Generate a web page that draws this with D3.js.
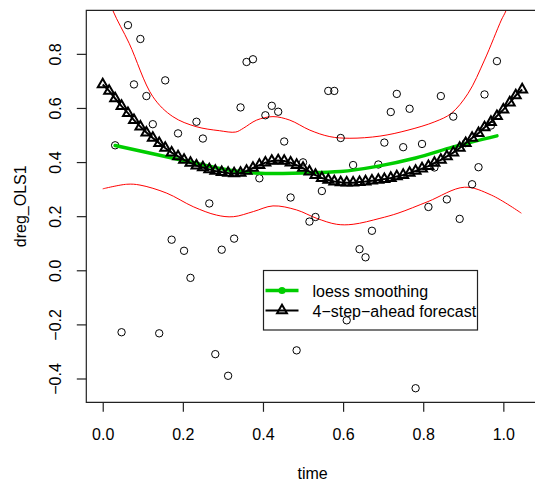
<!DOCTYPE html>
<html>
<head>
<meta charset="utf-8">
<script src="https://cdn.jsdelivr.net/npm/d3@7"></script>
<style>
  html, body { margin: 0; padding: 0; background: #fff; }
  svg { display: block; }
  text { font-family: "Liberation Sans", Arial, sans-serif; fill: #000; }
</style>
</head>
<body>
<svg id="chart" width="535" height="481"></svg>
<script>
// ---------- data ----------
const circleTime = [0.031, 0.047, 0.063, 0.078, 0.094, 0.109, 0.125, 0.141, 0.156, 0.172,
  0.188, 0.203, 0.219, 0.234, 0.25, 0.266, 0.281, 0.297, 0.313, 0.328,
  0.344, 0.359, 0.375, 0.391, 0.406, 0.422, 0.438, 0.453, 0.469, 0.484,
  0.5, 0.516, 0.531, 0.547, 0.563, 0.578, 0.594, 0.609, 0.625, 0.641,
  0.656, 0.672, 0.688, 0.703, 0.719, 0.734, 0.75, 0.766, 0.781, 0.797,
  0.813, 0.828, 0.844, 0.859, 0.875, 0.891, 0.906, 0.922, 0.938, 0.953,
  0.969, 0.984];
const circleValue = [0.462, -0.229, 0.906, 0.687, 0.855, 0.644, 0.540, -0.233, 0.702, 0.113,
  0.506, 0.072, -0.028, 0.549, 0.487, 0.247, -0.310, 0.076, -0.390, 0.117,
  0.602, 0.770, 0.780, 0.340, 0.573, 0.608, 0.586, 0.476, 0.269, -0.296,
  0.399, 0.180, 0.197, 0.293, 0.663, 0.663, 0.489, -0.185, 0.389, 0.078,
  0.048, 0.146, 0.391, 0.472, 0.585, 0.652, 0.455, 0.597, -0.436, 0.467,
  0.234, 0.380, 0.644, 0.262, 0.568, 0.190, 0.470, 0.318, 0.381, 0.650,
  0.535, 0.773];

const forecastTime = [0, 0.016, 0.031, 0.047, 0.063, 0.078, 0.094, 0.109, 0.125, 0.141,
  0.156, 0.172, 0.188, 0.203, 0.219, 0.234, 0.25, 0.266, 0.281, 0.297,
  0.313, 0.328, 0.344, 0.359, 0.375, 0.391, 0.406, 0.422, 0.438, 0.453,
  0.469, 0.484, 0.5, 0.516, 0.531, 0.547, 0.563, 0.578, 0.594, 0.609,
  0.625, 0.641, 0.656, 0.672, 0.688, 0.703, 0.719, 0.734, 0.75, 0.766,
  0.781, 0.797, 0.813, 0.828, 0.844, 0.859, 0.875, 0.891, 0.906, 0.922,
  0.938, 0.953, 0.969, 0.984, 1.0, 1.016, 1.031, 1.047];
const forecastValue = [0.687, 0.663, 0.635, 0.607, 0.581, 0.555, 0.531, 0.509, 0.489, 0.470,
  0.452, 0.435, 0.421, 0.408, 0.397, 0.387, 0.380, 0.373, 0.367, 0.363,
  0.360, 0.358, 0.360, 0.367, 0.378, 0.389, 0.398, 0.404, 0.406, 0.404,
  0.398, 0.389, 0.378, 0.365, 0.352, 0.341, 0.334, 0.328, 0.325, 0.324,
  0.324, 0.326, 0.328, 0.331, 0.334, 0.337, 0.341, 0.347, 0.352, 0.360,
  0.367, 0.376, 0.385, 0.397, 0.408, 0.421, 0.435, 0.452, 0.470, 0.489,
  0.507, 0.528, 0.548, 0.570, 0.594, 0.620, 0.646, 0.668];

const loessTime  = [0.031, 0.125, 0.219, 0.313, 0.406, 0.5, 0.594, 0.688, 0.781, 0.875, 0.984];
const loessValue = [0.461, 0.431, 0.400, 0.371, 0.358, 0.360, 0.365, 0.385, 0.415, 0.456, 0.497];

const upperTime  = [0, 0.025, 0.066, 0.125, 0.175, 0.233, 0.291, 0.332, 0.351, 0.384, 0.425, 0.467,
  0.517, 0.567, 0.617, 0.692, 0.762, 0.829, 0.870, 0.912, 0.953, 0.995, 1.007, 1.047];
const upperValue = [1.07, 0.961, 0.839, 0.642, 0.568, 0.531, 0.516, 0.511, 0.525, 0.555, 0.568, 0.555,
  0.518, 0.494, 0.488, 0.496, 0.518, 0.549, 0.580, 0.654, 0.777, 0.925, 0.961, 1.15];

const lowerTime  = [0, 0.060, 0.093, 0.160, 0.226, 0.284, 0.326, 0.376, 0.425, 0.484, 0.534, 0.584,
  0.625, 0.692, 0.737, 0.812, 0.903, 0.970, 1.045];
const lowerValue = [0.301, 0.318, 0.315, 0.285, 0.235, 0.204, 0.198, 0.217, 0.238, 0.223, 0.192, 0.170,
  0.170, 0.192, 0.211, 0.254, 0.307, 0.278, 0.211];

const xTicks = [0, 0.2, 0.4, 0.6, 0.8, 1.0];
const xTickLabels = ["0.0", "0.2", "0.4", "0.6", "0.8", "1.0"];
const yTicks = [-0.4, -0.2, 0, 0.2, 0.4, 0.6, 0.8];
const yTickLabels = ["\u22120.4", "\u22120.2", "0.0", "0.2", "0.4", "0.6", "0.8"];
const legendLabels = ["loess smoothing", "4\u2212step\u2212ahead forecast"];
const xTitle = "time";
const yTitle = "dreg_OLS1";

// ---------- layout ----------
const svg = d3.select("#chart");
const pLeft = 86.3, pRight = 540.4, pTop = 10.3, pBottom = 402.3;
const x = d3.scaleLinear().domain([-0.041, 1.0925]).range([pLeft, pRight]);
const y = d3.scaleLinear().domain([-0.488, 0.961]).range([pBottom, pTop]);

svg.append("defs").append("clipPath").attr("id", "plotclip")
  .append("rect").attr("x", pLeft).attr("y", pTop).attr("width", pRight - pLeft).attr("height", pBottom - pTop);

const plot = svg.append("g").attr("clip-path", "url(#plotclip)");

// red interval lines
const redLine = d3.line().x(d => x(d[0])).y(d => y(d[1])).curve(d3.curveCatmullRom.alpha(0.5));
plot.append("path").datum(d3.zip(upperTime, upperValue))
  .attr("d", redLine).attr("fill", "none").attr("stroke", "#ff0000").attr("stroke-width", 1);
plot.append("path").datum(d3.zip(lowerTime, lowerValue))
  .attr("d", redLine).attr("fill", "none").attr("stroke", "#ff0000").attr("stroke-width", 1);

// observed circles
plot.append("g").selectAll("circle").data(d3.zip(circleTime, circleValue)).join("circle")
  .attr("cx", d => x(d[0])).attr("cy", d => y(d[1])).attr("r", 3.7)
  .attr("fill", "none").attr("stroke", "#000").attr("stroke-width", 1);

// loess line
const smoothLine = d3.line().x(d => x(d[0])).y(d => y(d[1])).curve(d3.curveMonotoneX);
plot.append("path").datum(d3.zip(loessTime, loessValue))
  .attr("d", smoothLine).attr("fill", "none").attr("stroke", "#00cd00").attr("stroke-width", 3.5)
  .attr("stroke-linecap", "round");

// forecast line + triangles
const fData = d3.zip(forecastTime, forecastValue);
plot.append("path").datum(fData)
  .attr("d", d3.line().x(d => x(d[0])).y(d => y(d[1])))
  .attr("fill", "none").attr("stroke", "#000").attr("stroke-width", 2);
const triR = 5.7;
function triPath(cx, cy, r) {
  const hw = r * Math.sqrt(3) / 2;
  return `M${cx},${cy - r}L${cx + hw},${cy + r / 2}L${cx - hw},${cy + r / 2}Z`;
}
plot.append("g").selectAll("path").data(fData).join("path")
  .attr("d", d => triPath(x(d[0]), y(d[1]), triR))
  .attr("fill", "none").attr("stroke", "#000").attr("stroke-width", 2)
  .attr("stroke-linejoin", "miter");

// box (left, top, bottom)
svg.append("path")
  .attr("d", `M${pRight},${pTop}H${pLeft}V${pBottom}H${pRight}`)
  .attr("fill", "none").attr("stroke", "#222").attr("stroke-width", 1.2);

// x axis
const xAxis = svg.append("g").attr("transform", `translate(0,${pBottom})`)
  .call(d3.axisBottom(x).tickValues(xTicks).tickFormat((d, i) => xTickLabels[i]).tickSize(9.5).tickSizeOuter(0));
xAxis.select(".domain").remove();
xAxis.selectAll(".tick line").attr("stroke", "#222").attr("stroke-width", 1.2);
xAxis.selectAll(".tick text").attr("y", 37.7).attr("dy", null)
  .style("font-size", "16px").style("font-family", "Liberation Sans, Arial, sans-serif").attr("fill", "#000");

// y axis
const yAxis = svg.append("g").attr("transform", `translate(${pLeft},0)`)
  .call(d3.axisLeft(y).tickValues(yTicks).tickFormat((d, i) => yTickLabels[i]).tickSize(9.5).tickSizeOuter(0));
yAxis.select(".domain").remove();
yAxis.selectAll(".tick line").attr("stroke", "#222").attr("stroke-width", 1.2);
yAxis.selectAll(".tick text")
  .attr("x", null).attr("dy", null)
  .attr("transform", "translate(-25,0) rotate(-90)")
  .attr("text-anchor", "middle")
  .style("font-size", "16px").style("font-family", "Liberation Sans, Arial, sans-serif").attr("fill", "#000");

// axis titles
svg.append("text").attr("x", (pLeft + 541) / 2 - 1).attr("y", 479)
  .attr("text-anchor", "middle").style("font-size", "16px").text(xTitle);
svg.append("text").attr("transform", `translate(25.5,${(pTop + pBottom) / 2}) rotate(-90)`)
  .attr("text-anchor", "middle").style("font-size", "16px").text(yTitle);

// legend
const lg = svg.append("g");
lg.append("rect").attr("x", 263.5).attr("y", 270.5).attr("width", 214).attr("height", 59.5)
  .attr("fill", "none").attr("stroke", "#222").attr("stroke-width", 1.2);
const rowY = [290.5, 310.5];
lg.append("line").attr("x1", 265.5).attr("x2", 298.5).attr("y1", rowY[0]).attr("y2", rowY[0])
  .attr("stroke", "#00cd00").attr("stroke-width", 3.5);
lg.append("circle").attr("cx", 282).attr("cy", rowY[0]).attr("r", 3.6).attr("fill", "#00cd00");
lg.append("line").attr("x1", 265.5).attr("x2", 298.5).attr("y1", rowY[1]).attr("y2", rowY[1])
  .attr("stroke", "#000").attr("stroke-width", 2);
lg.append("path").attr("d", triPath(282, rowY[1], triR)).attr("fill", "none")
  .attr("stroke", "#000").attr("stroke-width", 2);
lg.selectAll("text.lab").data(legendLabels).join("text").attr("class", "lab")
  .attr("x", 312.5).attr("y", (d, i) => rowY[i] + 6)
  .style("font-size", "16px").text(d => d);
</script>
</body>
</html>
